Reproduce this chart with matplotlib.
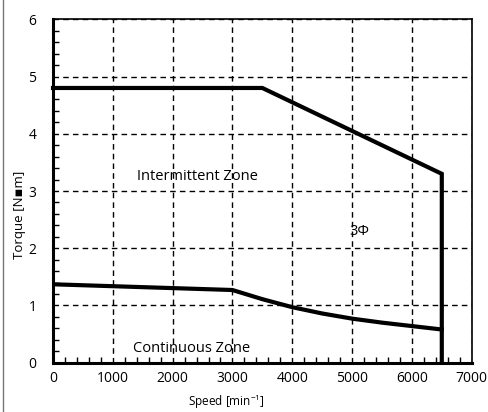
import matplotlib
matplotlib.use("Agg")
import matplotlib.pyplot as plt
from matplotlib.ticker import MultipleLocator
from matplotlib.lines import Line2D

plt.rcParams['font.family'] = ['Open Sans', 'DejaVu Sans', 'Noto Sans CJK JP']

# Intermittent zone boundary
inter_speed = [0, 3500, 6500, 6500]
inter_torque = [4.8, 4.8, 3.3, 0.0]

# Continuous zone boundary
cont_speed = [0, 3000, 3500, 4000, 4500, 5000, 5500, 6000, 6500]
cont_torque = [1.37, 1.27, 1.11, 0.97, 0.86, 0.77, 0.70, 0.64, 0.58]

x_ticks = [0, 1000, 2000, 3000, 4000, 5000, 6000, 7000]
y_ticks = [0, 1, 2, 3, 4, 5, 6]

fig = plt.figure(figsize=(4.88, 4.12), dpi=100)
ax = fig.add_axes([53/488, (412-362.7)/412, (471.7-53)/488, (362.7-19.3)/412])

ax.set_xlim(0, 7000)
ax.set_ylim(0, 6)
ax.set_xticks(x_ticks)
ax.set_yticks(y_ticks)
ax.xaxis.set_minor_locator(MultipleLocator(200))
ax.yaxis.set_minor_locator(MultipleLocator(0.2))
ax.tick_params(which='both', direction='in', top=False, right=False, labelsize=10)
ax.tick_params(axis='x', which='major', length=0, pad=6)
ax.tick_params(axis='y', which='major', length=0, pad=12)
ax.tick_params(which='minor', length=4, width=1)

ax.grid(True, which='major', color='black', linestyle=(0, (4, 3)), linewidth=1)
ax.set_axisbelow(True)

for s in ['left', 'bottom']:
    ax.spines[s].set_linewidth(2.2)
for s in ['top', 'right']:
    ax.spines[s].set_linewidth(1.2)

ax.plot(inter_speed, inter_torque, color='black', linewidth=3, solid_joinstyle='miter', clip_on=False, zorder=3)
ax.plot(cont_speed, cont_torque, color='black', linewidth=3, zorder=3)

ax.text(2414, 3.25, 'Intermittent Zone', ha='center', va='center', fontsize=10.5)
ax.text(5124, 2.30, '3Φ', ha='center', va='center', fontsize=10.5)
ax.text(2322, 0.25, 'Continuous Zone', ha='center', va='center', fontsize=10.5)

ax.set_xlabel('Speed [min$^{\\mathregular{-1}}$]', fontsize=8.5)
ax.xaxis.set_label_coords(0.413, -0.114)
ax.xaxis.label.set_va('center')
ax.set_ylabel('Torque [N▪m]', fontsize=9.5)
ax.yaxis.set_label_coords(-0.079, 0.43)
ax.yaxis.label.set_va('center')

fig.add_artist(Line2D([3/488, 3/488], [0, 1], color='#777777', linewidth=1, transform=fig.transFigure))

fig.savefig('out.png', dpi=100)
